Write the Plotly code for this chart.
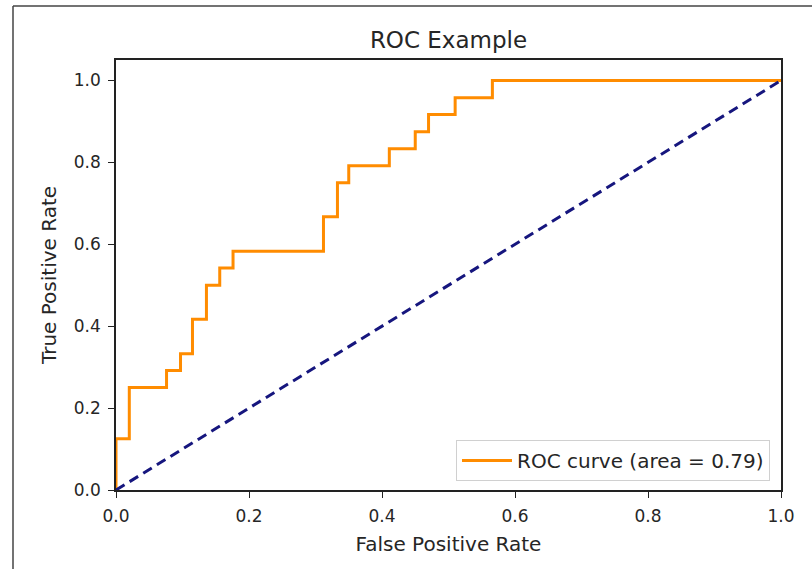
import plotly.graph_objects as go

# ROC curve corner points
fpr = [0.0, 0.0, 0.020, 0.020, 0.076, 0.076, 0.097, 0.097, 0.115, 0.115,
       0.136, 0.136, 0.156, 0.156, 0.176, 0.176, 0.312, 0.312, 0.333, 0.333,
       0.350, 0.350, 0.411, 0.411, 0.450, 0.450, 0.470, 0.470, 0.510, 0.510,
       0.566, 0.566, 1.0]
tpr = [0.0, 0.125, 0.125, 0.250, 0.250, 0.292, 0.292, 0.333, 0.333, 0.417,
       0.417, 0.500, 0.500, 0.542, 0.542, 0.583, 0.583, 0.667, 0.667, 0.750,
       0.750, 0.792, 0.792, 0.833, 0.833, 0.875, 0.875, 0.917, 0.917, 0.958,
       0.958, 1.0, 1.0]
diag_x = [0.0, 1.0]
diag_y = [0.0, 1.0]
roc_auc = 0.79
tick_vals = [0.0, 0.2, 0.4, 0.6, 0.8, 1.0]
tick_text = ["0.0", "0.2", "0.4", "0.6", "0.8", "1.0"]

FONT = "DejaVu Sans"
TXT = "#262626"

fig = go.Figure()
fig.add_trace(go.Scatter(x=fpr, y=tpr, mode="lines",
                         line=dict(color="#FF8C00", width=3),
                         name="ROC curve (area = %0.2f)" % roc_auc))
fig.add_trace(go.Scatter(x=diag_x, y=diag_y, mode="lines",
                         line=dict(color="#16167E", width=3, dash="10px,6px"),
                         showlegend=False))

L, R, T, B = 116, 31, 60, 79
W, H = 812, 569
pw, ph = W - L - R, H - T - B

axis_common = dict(showgrid=False, zeroline=False, showline=True, mirror=True,
                   linecolor="#222", linewidth=1.5, ticks="outside", ticklen=6,
                   tickwidth=1.3, tickcolor="#222", ticklabelstandoff=4,
                   tickfont=dict(family=FONT, size=17, color=TXT),
                   tickvals=tick_vals, ticktext=tick_text)

fig.update_layout(
    width=W, height=H,
    margin=dict(l=L, r=R, t=T, b=B),
    paper_bgcolor="white", plot_bgcolor="white",
    title=dict(text="ROC Example", x=0.5, xref="paper", xanchor="center",
               y=1 - 40 / H, yref="container", yanchor="middle",
               font=dict(family=FONT, size=23, color=TXT)),
    xaxis=dict(range=[0, 1], title=dict(text="False Positive Rate", standoff=12,
               font=dict(family=FONT, size=20, color=TXT)), **axis_common),
    yaxis=dict(range=[0, 1.05], title=dict(text="True Positive Rate", standoff=12,
               font=dict(family=FONT, size=20, color=TXT)), **axis_common),
    legend=dict(x=(770 - L) / pw, y=(490 - 481) / ph, xanchor="right", yanchor="bottom",
                bgcolor="rgba(255,255,255,0.8)", bordercolor="#d0d0d0", borderwidth=1,
                itemwidth=50,
                font=dict(family=FONT, size=20, color=TXT)),
    showlegend=True,
)

# outer frame (left and top edges of the cropped figure)
fig.add_shape(type="line", xref="paper", yref="paper",
              x0=(13 - L) / pw, x1=(W - L) / pw, y0=(H - B - 6) / ph, y1=(H - B - 6) / ph,
              line=dict(color="#444", width=1.5))
fig.add_shape(type="line", xref="paper", yref="paper",
              x0=(13 - L) / pw, x1=(13 - L) / pw, y0=(H - B - 6) / ph, y1=-B / ph,
              line=dict(color="#444", width=1.5))

fig.write_html("out.html")
